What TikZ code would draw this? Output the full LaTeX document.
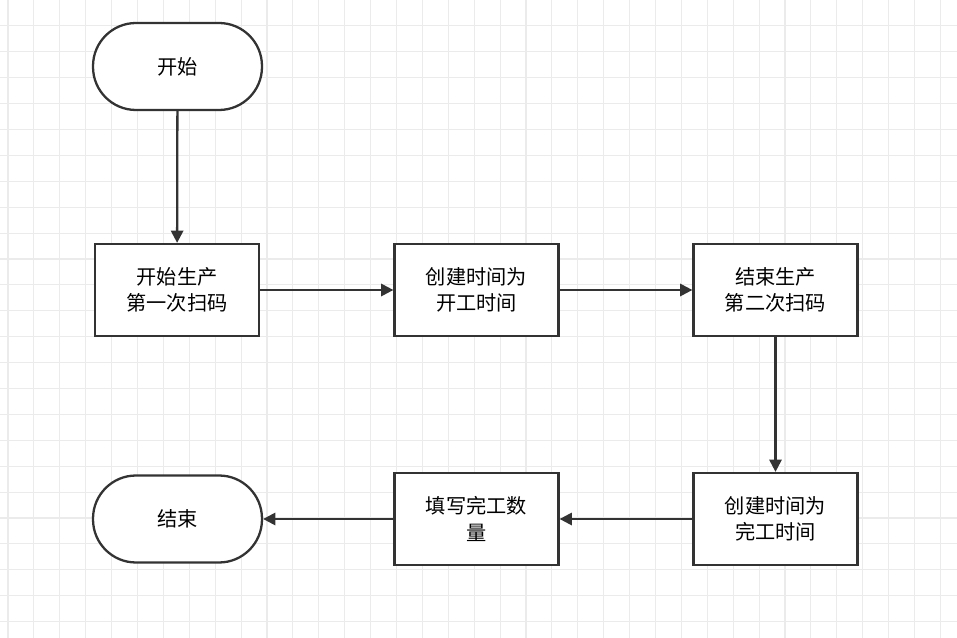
\documentclass[tikz,border=0pt]{standalone}
\usepackage{fontspec}
\newfontfamily\cjk{Noto Sans CJK SC}
\usetikzlibrary{arrows.meta}
\begin{document}
\begin{tikzpicture}[x=0.02cm, y=-0.02cm,
    font=\cjk\fontsize{11.5}{15}\selectfont,
    box/.style={draw=black!80, line width=1.3pt, minimum width=3.28cm, minimum height=1.84cm, align=center, fill=white},
    term/.style={draw=black!80, line width=1.3pt, minimum width=3.38cm, minimum height=1.74cm, rounded corners=0.86cm, fill=white},
    flow/.style={draw=black!80, line width=1.3pt, -{Triangle[length=7pt,width=7pt]}}]
    \useasboundingbox (0,0) rectangle (957,638);
    \foreach \i in {0,...,36} {
        \draw[black!8, line width=0.6pt] ({8+25.9*\i},0) -- ({8+25.9*\i},638);
    }
    \foreach \j in {1,...,24} {
        \draw[black!8, line width=0.6pt] (0,{25.9*\j}) -- (957,{25.9*\j});
    }
    \node[term] (start) at (177.5,66.5) {开始};
    \node[box] (scan1) at (177,290) {开始生产\\第一次扫码};
    \node[box] (open) at (476.5,290) {创建时间为\\开工时间};
    \node[box] (scan2) at (775.5,290) {结束生产\\第二次扫码};
    \node[box] (close) at (775.5,519) {创建时间为\\完工时间};
    \node[box] (fill) at (476.5,519) {填写完工数\\量};
    \node[term] (stop) at (177.5,519) {结束};
    \draw[flow] (start) -- (scan1);
    \draw[flow] (scan1) -- (open);
    \draw[flow] (open) -- (scan2);
    \draw[flow] (scan2) -- (close);
    \draw[flow] (close) -- (fill);
    \draw[flow] (fill) -- (stop);
\end{tikzpicture}
\end{document}
